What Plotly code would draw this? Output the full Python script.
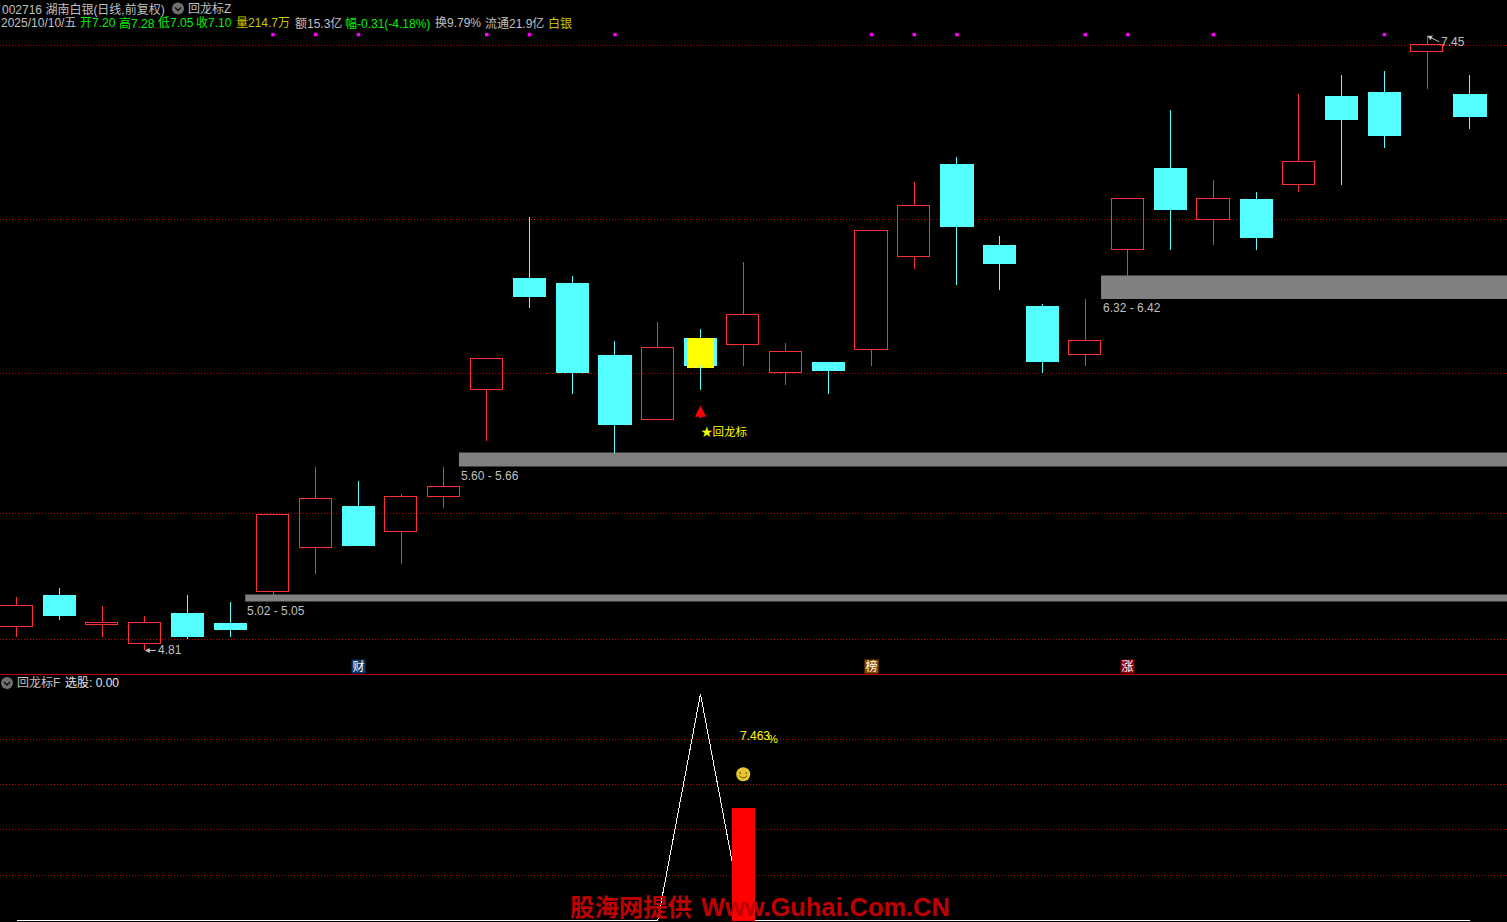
import plotly.graph_objects as go

# ---------- data ----------
OPEN  = [4.91,5.05,4.92,4.84,4.97,4.93,5.06,5.25,5.43,5.32,5.47,5.93,6.41,6.39,6.08,5.80,6.15,6.12,6.00,6.05,6.10,6.50,6.90,6.55,6.29,6.08,6.53,6.88,6.66,6.75,6.81,7.19,7.21,7.38,7.20]
HIGH  = [5.04,5.08,5.00,4.96,5.05,5.02,5.39,5.60,5.54,5.48,5.60,6.06,6.67,6.42,6.14,6.22,6.19,6.48,6.13,6.05,6.61,6.82,6.93,6.59,6.30,6.32,6.75,7.13,6.83,6.78,7.20,7.28,7.30,7.45,7.28]
LOW   = [4.87,4.94,4.87,4.81,4.86,4.87,5.05,5.14,5.26,5.18,5.42,5.71,6.28,5.91,5.66,5.80,5.93,6.03,5.95,5.91,6.03,6.45,6.38,6.36,6.00,6.03,6.42,6.53,6.55,6.53,6.78,6.81,6.97,7.22,7.05]
CLOSE = [5.00,4.96,4.93,4.93,4.87,4.90,5.39,5.46,5.26,5.47,5.51,6.06,6.33,6.00,5.78,6.11,6.03,6.25,6.09,6.01,6.61,6.72,6.63,6.47,6.05,6.14,6.75,6.70,6.75,6.58,6.91,7.09,7.02,7.41,7.10]
UP_FLAG = [1,0,1,1,0,0,1,1,0,1,1,1,0,0,0,1,0,1,1,0,1,1,0,0,0,1,1,0,1,0,1,0,0,1,0]

MAIN_GRID = [7.408,6.661,6.000,5.398,4.857]
MARK_IDX = [6,7,8,11,12,14,20,21,22,25,26,28,32]
MARK_LEVEL = 7.455
SIGNAL_IDX = 16
SIGNAL_TOP = 6.15
SIGNAL_BOTTOM = 6.025
ARROW_TIP = 5.862
SIGNAL_LABEL_Y = 5.748

BAND_START = [5.35,10.35,25.37]
BAND_LOW   = [5.02,5.60,6.32]
BAND_HIGH  = [5.05,5.66,6.42]

BADGES = [(8,"财","#0B3A6E"),(20,"榜","#8A4A00"),(26,"涨","#8B0000")]
BADGE_LEVEL = 4.741

SUB_X = list(range(35))
SUB_LINE = [0]*16+[15]+[0]*18
SUB_GRID = [3,6,9,12]
SUB_BAR_IDX = 17
SUB_BAR_VALUE = 7.463
SMILE_LEVEL = 9.69

GREY="#C0C0C0"; RED="#FF3232"; CYAN="#54FFFF"; GRID="#C80000"; GREEN="#00F000"; OLIVE="#C8C800"
FONT="Liberation Sans, Noto Sans CJK SC, sans-serif"

X_RANGE=[-0.386,34.866]
H=922; SPLIT=(922-675)/922

fig=go.Figure()

up=[i for i,f in enumerate(UP_FLAG) if f]
dn=[i for i,f in enumerate(UP_FLAG) if not f]

def bodies(idx,fill,name,w):
    fig.add_trace(go.Bar(x=idx,
        y=[abs(CLOSE[i]-OPEN[i]) for i in idx],
        base=[min(CLOSE[i],OPEN[i]) for i in idx],
        width=w,marker=dict(color=fill,line=dict(color=RED if name=="up" else CYAN,width=1 if name=="up" else 0)),
        xaxis="x",yaxis="y",showlegend=False,name=name,hoverinfo="skip"))
bodies(up,"rgba(0,0,0,0)","up",0.755)
bodies(dn,CYAN,"down",0.775)

# yellow signal body
fig.add_trace(go.Bar(x=[SIGNAL_IDX],y=[SIGNAL_TOP-SIGNAL_BOTTOM],base=[SIGNAL_BOTTOM],width=0.63,
    marker=dict(color="#FFFF00",line=dict(width=0)),xaxis="x",yaxis="y",showlegend=False,hoverinfo="skip"))

def wicks(idx,color):
    xs=[];ys=[]
    for i in idx:
        top=max(OPEN[i],CLOSE[i]);bot=min(OPEN[i],CLOSE[i])
        if HIGH[i]>top: xs+=[i,i,None];ys+=[HIGH[i],top,None]
        if LOW[i]<bot: xs+=[i,i,None];ys+=[bot,LOW[i],None]
    fig.add_trace(go.Scatter(x=xs,y=ys,mode="lines",line=dict(color=color,width=1),xaxis="x",yaxis="y",showlegend=False,hoverinfo="skip"))
wicks(up,RED); wicks(dn,CYAN)

fig.add_trace(go.Scatter(x=MARK_IDX,y=[MARK_LEVEL]*len(MARK_IDX),mode="markers",
    marker=dict(symbol="square",size=3.5,color="#FF00FF",line=dict(width=0)),xaxis="x",yaxis="y",showlegend=False,hoverinfo="skip"))

# lower panel
fig.add_trace(go.Scatter(x=SUB_X,y=SUB_LINE,mode="lines",line=dict(color="#FFFFFF",width=1),xaxis="x2",yaxis="y2",showlegend=False,hoverinfo="skip"))
fig.add_trace(go.Bar(x=[SUB_BAR_IDX],y=[SUB_BAR_VALUE],width=0.54,marker=dict(color="#FF0000",line=dict(width=0)),xaxis="x3",yaxis="y3",showlegend=False,hoverinfo="skip"))
fig.add_trace(go.Scatter(x=[SUB_BAR_IDX],y=[SMILE_LEVEL],mode="markers",marker=dict(symbol="circle",size=14,color="#E9C62E",line=dict(width=0)),xaxis="x3",yaxis="y3",showlegend=False,hoverinfo="skip"))

shapes=[]
for s,lo,hi in zip(BAND_START,BAND_LOW,BAND_HIGH):
    shapes.append(dict(type="rect",xref="x",yref="y",x0=s,x1=X_RANGE[1],y0=lo,y1=hi,fillcolor="#808080",line=dict(width=0),layer="below"))
shapes.append(dict(type="line",xref="paper",yref="paper",x0=0,x1=1,y0=1-674.5/922,y1=1-674.5/922,line=dict(color="#C00000",width=1)))

def icon(px,py):
    xa=px/1507; ya=1-py/922
    shapes.append(dict(type="circle",xref="paper",yref="paper",xsizemode="pixel",ysizemode="pixel",xanchor=xa,yanchor=ya,x0=-6,x1=6,y0=-6,y1=6,fillcolor="#707070",line=dict(width=0)))
    shapes.append(dict(type="path",xref="paper",yref="paper",xsizemode="pixel",ysizemode="pixel",xanchor=xa,yanchor=ya,path="M-3,1 L0,-2 L3,1",line=dict(color="#111111",width=1.5)))
icon(178,8.5); icon(7,683)

# smiley features
for p,w in (("M-3,2 L-3,0.5",1.5),("M3,2 L3,0.5",1.5),("M-4,-1.5 Q0,-6 4,-1.5",1)):
    shapes.append(dict(type="path",xref="x3",yref="y3",xsizemode="pixel",ysizemode="pixel",xanchor=SUB_BAR_IDX,yanchor=SMILE_LEVEL,path=p,line=dict(color="#6A5200",width=w)))

anns=[]
def T(px,py,t,c=GREY,size=12):
    anns.append(dict(xref="paper",yref="paper",x=px/1507,y=1-py/922,text=t,showarrow=False,xanchor="left",yanchor="middle",
        font=dict(family=FONT,size=size,color=c),borderpad=0,borderwidth=0))
T(2,9,"002716 湖南白银(日线,前复权)")
T(188,9,"回龙标Z")
T(1,23,"2025/10/10/五")
for px,t,c in [(80,"开7.20",GREEN),(118.5,"高7.28",GREEN),(158,"低7.05",GREEN),(196.5,"收7.10",GREEN),
               (235.5,"量214.7万",OLIVE),(294.5,"额15.3亿",GREY),(345,"幅-0.31(-4.18%)",GREEN),
               (435,"换9.79%",GREY),(485,"流通21.9亿",GREY),(548,"白银",OLIVE)]:
    T(px,23,t,c)
T(17,683,"回龙标F")
T(65,683,"选股: 0.00","#E6E6E6")

def D(i,p,t,c=GREY,size=12,xr="x",yr="y",xshift=0,yshift=0,anchor="left"):
    anns.append(dict(xref=xr,yref=yr,x=i,y=p,text=t,showarrow=False,xanchor=anchor,yanchor="middle",xshift=xshift,yshift=yshift,
        font=dict(family=FONT,size=size,color=c),borderpad=0))
for s,lo,hi in zip(BAND_START,BAND_LOW,BAND_HIGH):
    D(s,lo,f"{lo:.2f} - {hi:.2f}",xshift=1,yshift=-9.5)
anns.append(dict(xref="x",yref="y",x=3,y=LOW[3],text="4.81",showarrow=True,ax=11,ay=0,xanchor="left",yanchor="middle",
    arrowcolor=GREY,arrowwidth=1,arrowhead=2,arrowsize=1,standoff=0,font=dict(family=FONT,size=12,color=GREY)))
anns.append(dict(xref="x",yref="y",x=33,y=HIGH[33],text="7.45",showarrow=True,ax=12,ay=6,xanchor="left",yanchor="middle",
    arrowcolor=GREY,arrowwidth=1,arrowhead=2,arrowsize=1,standoff=0,font=dict(family=FONT,size=12,color=GREY)))
anns.append(dict(xref="x",yref="y",x=SIGNAL_IDX,y=ARROW_TIP,text="",showarrow=True,ax=0,ay=14,
    arrowcolor="#FF0000",arrowwidth=2.5,arrowhead=2,arrowsize=0.9,standoff=0))
D(SIGNAL_IDX,SIGNAL_LABEL_Y,"★回龙标","#FFFF00",size=11.5)
for i,t,c in BADGES:
    anns.append(dict(xref="x",yref="y",x=i,y=BADGE_LEVEL,text=t,showarrow=False,width=13,height=13,bgcolor=c,borderpad=0,
        font=dict(family=FONT,size=12,color="#FFFFFF"),xanchor="center",yanchor="middle"))
D(SUB_BAR_IDX,SUB_BAR_VALUE+4.76,f"{SUB_BAR_VALUE:.3f}","#FFFF00",xr="x3",yr="y3",xshift=-4.5)
D(SUB_BAR_IDX,SUB_BAR_VALUE+4.58,"%","#FFFF00",size=11,xr="x3",yr="y3",xshift=24)
T(570,907,"<b>股海网提供</b>","#C00000",24.4)
T(701,907,"<b>Www.Guhai.Com.CN</b>","#C00000",25.4)

Y2=[-0.0993,16.258]
hidden=dict(showticklabels=False,ticks="",zeroline=False,showgrid=False,fixedrange=True)
fig.update_layout(
    width=1507,height=922,margin=dict(l=0,r=0,t=0,b=0),
    paper_bgcolor="#000000",plot_bgcolor="#000000",barmode="overlay",bargap=0,showlegend=False,
    xaxis=dict(range=X_RANGE,domain=[0,1],anchor="y",**hidden),
    yaxis=dict(range=[4.7047,7.6036],domain=[SPLIT,1],anchor="x",showticklabels=False,ticks="",zeroline=False,fixedrange=True,
        showgrid=True,tickmode="array",tickvals=MAIN_GRID,gridcolor=GRID,griddash="1px,2px",gridwidth=1),
    xaxis2=dict(range=X_RANGE,domain=[0,1],anchor="y2",**hidden),
    yaxis2=dict(range=Y2,domain=[0,SPLIT],anchor="x2",showticklabels=False,ticks="",zeroline=False,fixedrange=True,
        showgrid=True,tickmode="array",tickvals=SUB_GRID,gridcolor=GRID,griddash="1px,2px",gridwidth=1),
    xaxis3=dict(range=X_RANGE,overlaying="x2",anchor="y3",**hidden),
    yaxis3=dict(range=Y2,overlaying="y2",anchor="x3",**hidden),
    shapes=shapes,annotations=anns,
)
css=".scatterlayer path.js-line,.barlayer path,.gridlayer path{shape-rendering:crispEdges !important}"
fig.write_html("out.html",config=dict(displayModeBar=False),
    post_script="document.body.style.margin='0';document.body.style.background='#000';document.documentElement.style.overflow='hidden';"
                "var s=document.createElement('style');s.textContent='"+css+"';document.head.appendChild(s);")
